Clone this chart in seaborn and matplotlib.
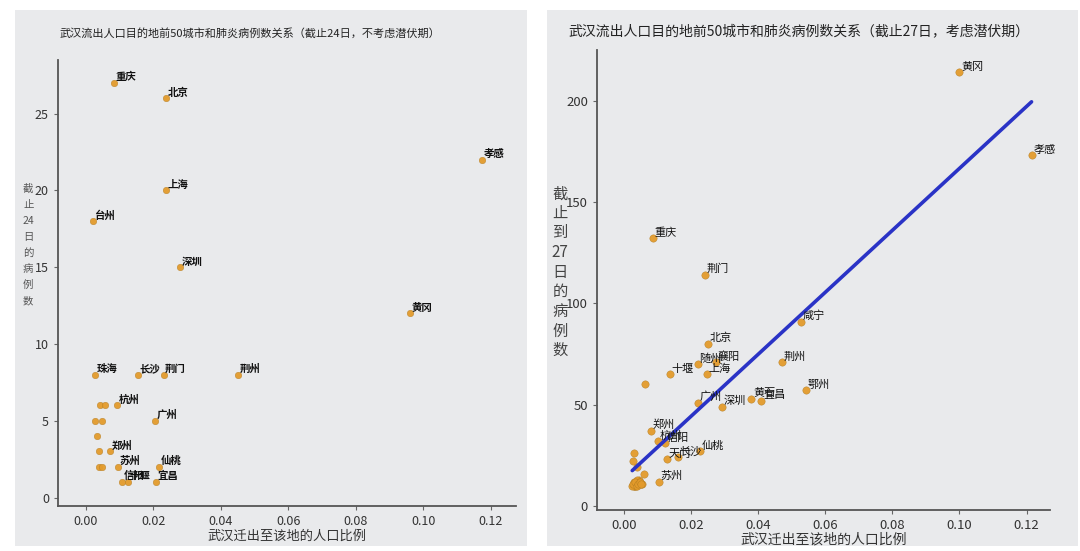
import matplotlib
matplotlib.use("Agg")
import matplotlib.pyplot as plt
import seaborn as sns
import pandas as pd
from matplotlib.patches import Rectangle
from matplotlib.ticker import FixedLocator, FuncFormatter

# ---------------- data ----------------
# Left panel: cases up to Jan 24 (no incubation)
left_city = ["重庆", "北京", "上海", "台州", "深圳", "孝感", "黄冈", "珠海", "长沙", "荆门",
             "荆州", "杭州", "广州", "郑州", "苏州", "仙桃", "信阳", "十堰", "宜昌",
             "", "", "", "", "", "", "", ""]
left_share = [0.0083, 0.0236, 0.0236, 0.0020, 0.0280, 0.1175, 0.0960, 0.0027, 0.0155, 0.0230,
              0.0450, 0.0092, 0.0205, 0.0071, 0.0095, 0.0217, 0.0107, 0.0125, 0.0208,
              0.0042, 0.0055, 0.0027, 0.0048, 0.0033, 0.0039, 0.0039, 0.0048]
left_cases = [27, 26, 20, 18, 15, 22, 12, 8, 8, 8,
              8, 6, 5, 3, 2, 2, 1, 1, 1,
              6, 6, 5, 5, 4, 3, 2, 2]

# Right panel: cases up to Jan 27 (with incubation); 50 cities, many overlap bottom-left
right_city = ["黄冈", "孝感", "重庆", "荆门", "咸宁", "北京", "荆州", "随州", "襄阳", "十堰",
              "上海", "鄂州", "广州", "深圳", "黄石", "宜昌", "郑州", "杭州", "信阳", "天门",
              "长沙", "仙桃", "苏州",
              "", "", "", "", "", "", "", "",
              "", "", "", "", "", "", "", "", "", "",
              "", "", "", "", "", "", "", "", ""]
right_share = [0.1000, 0.1215, 0.0087, 0.0242, 0.0528, 0.0250, 0.0472, 0.0220, 0.0275, 0.0137,
               0.0248, 0.0543, 0.0220, 0.0293, 0.0380, 0.0410, 0.0080, 0.0103, 0.0122, 0.0128,
               0.0160, 0.0227, 0.0104,
               0.0063, 0.0030, 0.0027, 0.0040, 0.0060, 0.0045, 0.0036, 0.0030,
               0.0030, 0.0033, 0.0036, 0.0040, 0.0045, 0.0050, 0.0054, 0.0030, 0.0033, 0.0036,
               0.0040, 0.0045, 0.0025, 0.0028, 0.0032, 0.0038, 0.0042, 0.0048, 0.0052]
right_cases = [214, 173, 132, 114, 91, 80, 71, 70, 71, 65,
               65, 57, 51, 49, 53, 52, 37, 32, 31, 23,
               24, 27, 12,
               60, 26, 22, 19, 16, 12, 11, 10,
               10, 11, 10, 12, 13, 11, 11, 12, 10, 11,
               13, 12, 10, 11, 12, 10, 11, 12, 11]

x_ticks = [0.00, 0.02, 0.04, 0.06, 0.08, 0.10, 0.12]
left_yticks = [0, 5, 10, 15, 20, 25]
right_yticks = [0, 50, 100, 150, 200]

left_title = "武汉流出人口目的地前50城市和肺炎病例数关系（截止24日，不考虑潜伏期）"
right_title = "武汉流出人口目的地前50城市和肺炎病例数关系（截止27日，考虑潜伏期）"
xlabel = "武汉迁出至该地的人口比例"
left_ylabel = "截\n止\n24\n日\n的\n病\n例\n数"
right_ylabel = "截\n止\n到\n27\n日\n的\n病\n例\n数"

left_df = pd.DataFrame({"city": left_city, "share": left_share, "cases": left_cases})
right_df = pd.DataFrame({"city": right_city, "share": right_share, "cases": right_cases})

# ---------------- style ----------------
sns.set_theme(style="white")
plt.rcParams["font.family"] = ["Noto Sans CJK SC", "DejaVu Sans"]

PANEL = "#e9eaec"
DOT = "#e39b2c"
SPINE = "#555555"

fig = plt.figure(figsize=(10.8, 5.51), dpi=100, facecolor="white")
W, H = 1080, 551

def px_rect(x0, y0, x1, y1):
    return [x0 / W, 1 - y1 / H, (x1 - x0) / W, (y1 - y0) / H]

# panel backgrounds
for (x0, y0, x1, y1) in [(15, 10, 527, 546), (547, 10, 1078, 546)]:
    r = px_rect(x0, y0, x1, y1)
    fig.patches.append(Rectangle((r[0], r[1]), r[2], r[3], transform=fig.transFigure,
                                 facecolor=PANEL, edgecolor="none", zorder=-10))

axL = fig.add_axes(px_rect(58, 60, 516, 506))
axR = fig.add_axes(px_rect(597, 50, 1050, 510))
axL.set_zorder(2)
axR.set_zorder(2)

def style_axis(ax, xlim, ylim, yticks, tick_size):
    ax.set_facecolor(PANEL)
    ax.set_xlim(*xlim)
    ax.set_ylim(*ylim)
    ax.xaxis.set_major_locator(FixedLocator(x_ticks))
    ax.yaxis.set_major_locator(FixedLocator(yticks))
    ax.xaxis.set_major_formatter(FuncFormatter(lambda v, p: f"{v:.2f}"))
    for s in ["top", "right"]:
        ax.spines[s].set_visible(False)
    for s in ["left", "bottom"]:
        ax.spines[s].set_color(SPINE)
        ax.spines[s].set_linewidth(1.3)
    ax.tick_params(axis="both", which="major", length=3, width=0.8, color="#666666",
                   labelsize=tick_size, labelcolor="#333333", direction="out",
                   bottom=True, left=True)
    ax.grid(False)

# ---------------- left ----------------
sns.scatterplot(data=left_df, x="share", y="cases", ax=axL, color=DOT, s=22,
                edgecolor="#b07a20", linewidth=0.3, alpha=0.95, zorder=3, legend=False)
for _, row in left_df.iterrows():
    if row["city"]:
        axL.text(row["share"] + 0.0005, row["cases"] + 0.05, row["city"], fontsize=7.5,
                 color="#111111", ha="left", va="bottom", fontweight="bold", zorder=4)
style_axis(axL, (-0.0083, 0.1275), (-0.55, 28.5), left_yticks, 9)
axL.set_xlabel(xlabel, fontsize=9.5, color="#333333", labelpad=1)
axL.set_ylabel(left_ylabel, fontsize=7.5, color="#555555", rotation=0,
               va="center", ha="center", multialignment="center", linespacing=1.75)
axL.yaxis.set_label_coords(-0.065, 0.585)
fig.text(60 / W, 1 - 33 / H, left_title, fontsize=8, color="#222222", va="center", ha="left")

# ---------------- right ----------------
sns.scatterplot(data=right_df, x="share", y="cases", ax=axR, color=DOT, s=28,
                edgecolor="#b07a20", linewidth=0.3, alpha=0.95, zorder=3, legend=False)
sns.regplot(data=right_df, x="share", y="cases", ax=axR, scatter=False, ci=None,
            line_kws={"color": "#2a33c6", "linewidth": 2.6, "zorder": 3.5})
for _, row in right_df.iterrows():
    if row["city"]:
        axR.text(row["share"] + 0.0005, row["cases"] + 0.3, row["city"], fontsize=8,
                 color="#111111", ha="left", va="bottom", zorder=4)
style_axis(axR, (-0.008, 0.127), (-2, 225), right_yticks, 9.5)
axR.set_xlabel(xlabel, fontsize=10, color="#333333", labelpad=0)
axR.set_ylabel(right_ylabel, fontsize=11, color="#444444", rotation=0,
               va="center", ha="center", multialignment="center", linespacing=1.2)
axR.yaxis.set_label_coords(-0.082, 0.517)
fig.text(568 / W, 1 - 31 / H, right_title, fontsize=10, color="#222222", va="center", ha="left")

fig.savefig("out.png", dpi=100, facecolor="white")
